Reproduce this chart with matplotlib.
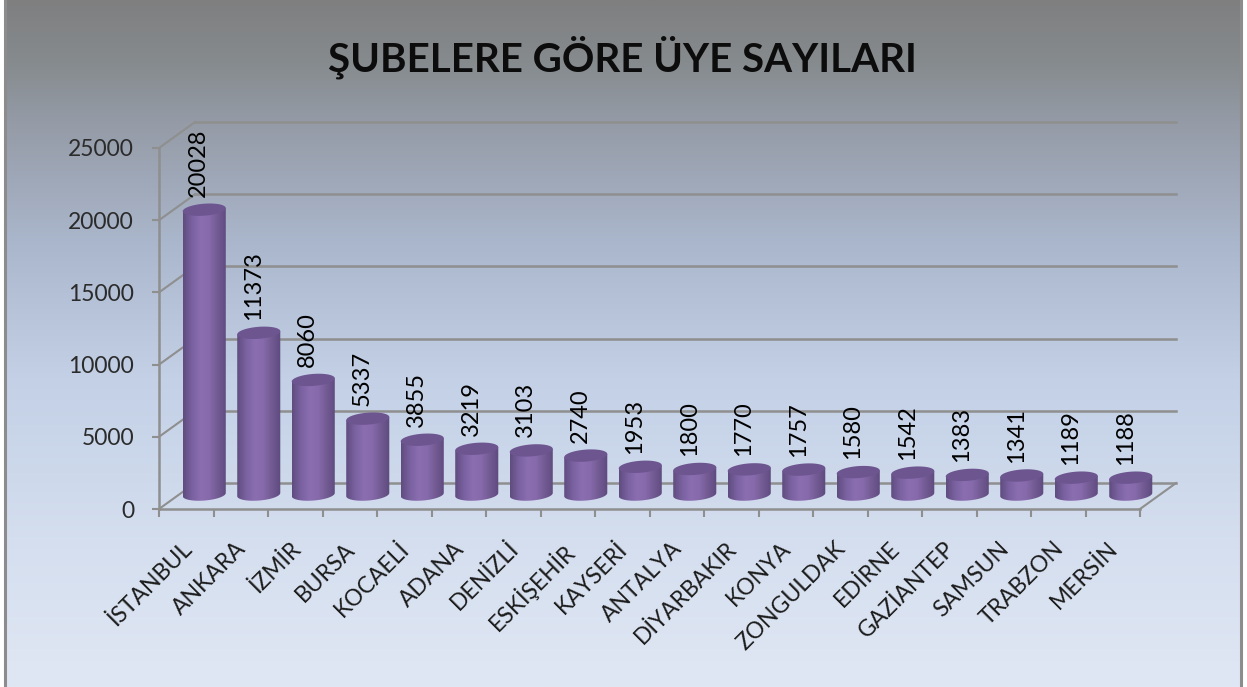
import numpy as np
import matplotlib
matplotlib.use('Agg')
import matplotlib.pyplot as plt
from matplotlib.colors import LinearSegmentedColormap
from matplotlib.patches import Polygon, Rectangle

plt.rcParams['font.family'] = ['Lato', 'DejaVu Sans']

cities = ['İSTANBUL', 'ANKARA', 'İZMİR', 'BURSA', 'KOCAELİ', 'ADANA', 'DENİZLİ', 'ESKİŞEHİR', 'KAYSERİ',
          'ANTALYA', 'DİYARBAKIR', 'KONYA', 'ZONGULDAK', 'EDİRNE', 'GAZİANTEP', 'SAMSUN', 'TRABZON', 'MERSİN']
members = [20028, 11373, 8060, 5337, 3855, 3219, 3103, 2740, 1953,
           1800, 1770, 1757, 1580, 1542, 1383, 1341, 1189, 1188]
y_ticks = [0, 5000, 10000, 15000, 20000, 25000]
title = 'ŞUBELERE GÖRE ÜYE SAYILARI'

W, H = 1247, 687
fig = plt.figure(figsize=(W / 100, H / 100), dpi=100, facecolor='white')

# slide background
bg = fig.add_axes([0, 0, 1, 1], zorder=0)
bg_cmap = LinearSegmentedColormap.from_list('bg', [(0, '#7f7f80'), (0.09, '#868b8e'), (0.17, '#949aa5'), (0.35, '#aab6cb'),
                                                   (0.55, '#c3d0e6'), (0.8, '#d5dfef'), (1, '#e0e7f4')])
bg.imshow(np.linspace(0, 1, 256).reshape(-1, 1), cmap=bg_cmap, aspect='auto', extent=[0, W, H, 0])
bg.add_patch(Rectangle((0, 0), 4, H, color='white', lw=0))
bg.add_patch(Rectangle((1242, 0), 5, H, color='white', lw=0))
bg.plot([5, 5], [0, H], color='#8c8c8c', lw=2.2)
bg.plot([1240.5, 1240.5], [0, H], color='#8c8c8c', lw=2.2)
bg.set_xlim(0, W)
bg.set_ylim(H, 0)
bg.axis('off')

# front plane of the chart
ax = fig.add_axes([159 / W, 1 - 509 / H, 981 / W, 361 / H], zorder=1)
ax.patch.set_alpha(0)
n = len(cities)
depth_x = 36 / 54.5
depth_y = 1795
line_col = '#8e8f8e'

for v in y_ticks:
    ax.plot([depth_x, n + depth_x], [v + depth_y, v + depth_y], color=line_col, lw=1.8, clip_on=False, zorder=1)
    ax.plot([0, depth_x], [v, v + depth_y], color=line_col, lw=1.5, clip_on=False, zorder=1)
ax.plot([n, n + depth_x], [0, depth_y], color=line_col, lw=1.5, clip_on=False, zorder=1)

# cylinders
body_cmap = LinearSegmentedColormap.from_list('body', ['#604d80', '#7a61a0', '#8a6eb0', '#866aab', '#725a92', '#5f4b7f'])
half_w = 0.395
semi_h = 415
tilt = 110
base = 1000
scale = 0.985
t = np.linspace(0, 2 * np.pi, 80)
for i, val in enumerate(members):
    cx = i + 0.5 + depth_x / 2
    top = base + val * scale
    ex = cx + half_w * np.cos(t)
    ey = semi_h * np.sin(t) + tilt * np.cos(t)
    lower = t[40:]
    body = np.vstack([
        np.column_stack([cx + half_w * np.cos(lower), base + semi_h * np.sin(lower) + tilt * np.cos(lower)]),
        [[cx + half_w, top + tilt], [cx - half_w, top - tilt]],
    ])
    im = ax.imshow(np.linspace(0, 1, 64).reshape(1, -1), cmap=body_cmap, aspect='auto',
                   extent=[cx - half_w, cx + half_w, base - semi_h - tilt, top + tilt], zorder=3)
    im.set_clip_path(Polygon(body, closed=True, transform=ax.transData))
    im.set_clip_box(fig.bbox)
    ax.fill(ex, top + ey, color='#6d5590', lw=0, zorder=4, clip_on=False)
    ax.annotate(str(val), (cx, top + semi_h), xytext=(-4, 5), textcoords='offset points', rotation=90,
                ha='center', va='bottom', fontsize=17, color='black', zorder=5, annotation_clip=False)

ax.set_xlim(0, n)
ax.set_ylim(0, 25000)
for s in ['top', 'right']:
    ax.spines[s].set_visible(False)
for s in ['left', 'bottom']:
    ax.spines[s].set_color(line_col)
    ax.spines[s].set_linewidth(1.8)

ax.set_yticks(y_ticks)
ax.tick_params(axis='y', length=5, width=1.5, color=line_col, pad=13, labelsize=16.5, labelcolor='#2b2b2b')
ax.set_xticks(range(n + 1))
ax.set_xticklabels([])
ax.tick_params(axis='x', which='major', length=5.5, width=1.5, color=line_col)
ax.set_xticks(np.arange(n) + 0.4, minor=True)
ax.set_xticklabels(cities, minor=True, rotation=45, ha='right', rotation_mode='anchor', fontsize=16.5, color='#1c1c1c')
ax.tick_params(axis='x', which='minor', length=0, pad=21)

fig.text(622 / W, 1 - 57 / H, title, ha='center', va='center', fontsize=29, fontweight='bold', color='#0c0c0c')

fig.savefig('out.png', dpi=100, facecolor=fig.get_facecolor())
